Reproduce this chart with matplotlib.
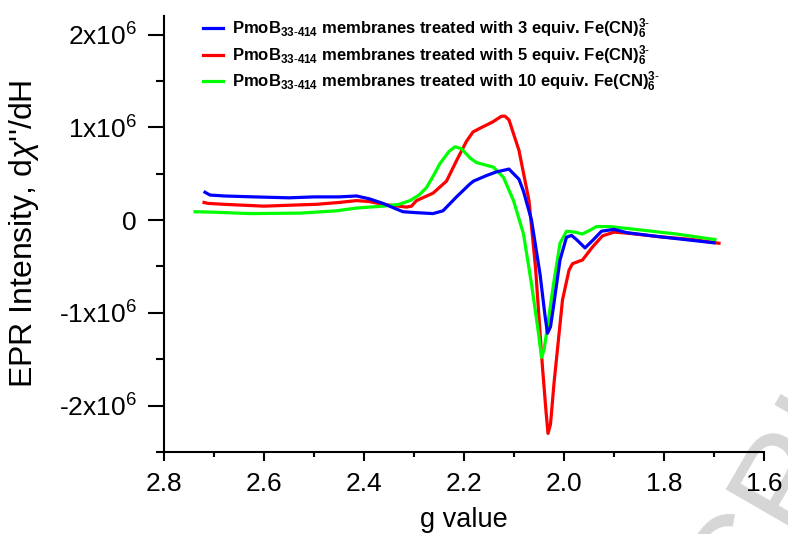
import numpy as np
import matplotlib
matplotlib.use('Agg')
import matplotlib.pyplot as plt
from matplotlib.ticker import MultipleLocator, FuncFormatter, FormatStrFormatter

plt.rcParams['font.family'] = 'Liberation Sans'
plt.rcParams['mathtext.fontset'] = 'custom'
plt.rcParams['mathtext.rm'] = 'Liberation Sans'
plt.rcParams['mathtext.it'] = 'Liberation Sans:italic'
plt.rcParams['mathtext.bf'] = 'Liberation Sans:bold'

# g values / intensities (x1e6)
g_3eq = [2.718, 2.708, 2.68, 2.62, 2.55, 2.50, 2.45, 2.415, 2.39, 2.362, 2.34, 2.322,
         2.295, 2.262, 2.242, 2.215, 2.188, 2.181, 2.155, 2.135, 2.118, 2.11, 2.101,
         2.09, 2.081, 2.065, 2.048, 2.038, 2.033, 2.027, 2.021, 2.008, 1.995, 1.985,
         1.975, 1.958, 1.941, 1.925, 1.90, 1.875, 1.808, 1.741, 1.70]
i_3eq = [0.30, 0.27, 0.26, 0.25, 0.24, 0.25, 0.25, 0.26, 0.23, 0.18, 0.13, 0.09,
         0.08, 0.07, 0.10, 0.25, 0.39, 0.42, 0.48, 0.52, 0.54, 0.55, 0.50,
         0.44, 0.31, 0.0, -0.58, -1.03, -1.22, -1.15, -0.93, -0.43, -0.185, -0.165,
         -0.21, -0.30, -0.21, -0.12, -0.10, -0.135, -0.18, -0.22, -0.245]

g_5eq = [2.72, 2.712, 2.68, 2.60, 2.55, 2.495, 2.45, 2.415, 2.39, 2.362, 2.315, 2.305,
         2.295, 2.262, 2.235, 2.215, 2.195, 2.182, 2.168, 2.142, 2.125, 2.118, 2.11,
         2.09, 2.07, 2.057, 2.043, 2.036, 2.032, 2.027, 2.02, 2.003, 1.99, 1.983,
         1.963, 1.943, 1.923, 1.90, 1.875, 1.808, 1.742, 1.69]
i_5eq = [0.19, 0.18, 0.17, 0.15, 0.16, 0.17, 0.19, 0.21, 0.20, 0.17, 0.14, 0.15,
         0.21, 0.29, 0.42, 0.64, 0.85, 0.95, 0.99, 1.06, 1.12, 1.12, 1.08,
         0.75, 0.21, -0.51, -1.59, -2.06, -2.30, -2.20, -1.76, -0.86, -0.54, -0.47,
         -0.43, -0.29, -0.17, -0.13, -0.14, -0.18, -0.21, -0.25]

g_10eq = [2.738, 2.70, 2.628, 2.528, 2.455, 2.415, 2.362, 2.33, 2.308, 2.29, 2.275,
          2.26, 2.248, 2.23, 2.218, 2.205, 2.188, 2.175, 2.161, 2.141, 2.121, 2.101,
          2.081, 2.065, 2.051, 2.045, 2.040, 2.035, 2.021, 2.008, 1.995, 1.978, 1.963,
          1.945, 1.935, 1.908, 1.841, 1.775, 1.698]
i_10eq = [0.09, 0.085, 0.07, 0.075, 0.10, 0.13, 0.15, 0.17, 0.21, 0.27, 0.35,
          0.49, 0.61, 0.74, 0.79, 0.77, 0.67, 0.62, 0.60, 0.57, 0.46, 0.21,
          -0.15, -0.69, -1.22, -1.48, -1.40, -1.22, -0.69, -0.25, -0.12, -0.13, -0.15,
          -0.10, -0.07, -0.07, -0.11, -0.15, -0.21]

labels = [r'PmoB$_{\mathbf{33\text{-}414}}$ membranes treated with 3 equiv. Fe(CN)$_{\mathbf{6}}^{\mathbf{3\text{-}}}$',
          r'PmoB$_{\mathbf{33\text{-}414}}$ membranes treated with 5 equiv. Fe(CN)$_{\mathbf{6}}^{\mathbf{3\text{-}}}$',
          r'PmoB$_{\mathbf{33\text{-}414}}$ membranes treated with 10 equiv. Fe(CN)$_{\mathbf{6}}^{\mathbf{3\text{-}}}$']

fig = plt.figure(figsize=(7.88, 5.34), dpi=100)
ax = fig.add_axes([164/788, 1-452/534, 600/788, 436/534])
ax.patch.set_alpha(0)

ax.plot(g_3eq, np.array(i_3eq)*1e6, color='#0000ff', lw=2.3, zorder=4, label=labels[0])
ax.plot(g_5eq, np.array(i_5eq)*1e6, color='#ff0000', lw=2.3, zorder=2, label=labels[1])
ax.plot(g_10eq, np.array(i_10eq)*1e6, color='#00ff00', lw=2.3, zorder=3, label=labels[2])

ax.set_xlim(2.8, 1.6)
ax.set_ylim(-2.5e6, 2.2e6)
for s in ['top', 'right']:
    ax.spines[s].set_visible(False)
for s in ['left', 'bottom']:
    ax.spines[s].set_linewidth(1.5)

ax.xaxis.set_major_locator(MultipleLocator(0.2))
ax.xaxis.set_minor_locator(MultipleLocator(0.1))
ax.xaxis.set_major_formatter(FormatStrFormatter('%.1f'))
ax.yaxis.set_major_locator(MultipleLocator(1e6))
ax.yaxis.set_minor_locator(MultipleLocator(0.5e6))

def yfmt(v, pos):
    m = int(round(v/1e6))
    if m == 0:
        return '0'
    return f'{m}x10$^{{6}}$'
ax.yaxis.set_major_formatter(FuncFormatter(yfmt))

ax.tick_params(axis='x', which='major', length=6.5, width=1.5, labelsize=19, pad=8)
ax.tick_params(axis='x', which='minor', length=3.6, width=1.5)
ax.tick_params(axis='y', which='major', length=11.5, width=1.5, labelsize=19, pad=8)
ax.tick_params(axis='y', which='minor', length=6, width=1.5)

ax.set_xlabel('g value', fontsize=19.5, labelpad=8)
ax.set_ylabel(r"EPR Intensity, d$\chi$''/dH", fontsize=23)
ax.yaxis.set_label_coords(-0.205, 0.5)

leg = ax.legend(loc='upper left', bbox_to_anchor=(203/788, 1-17/534),
                bbox_transform=fig.transFigure, frameon=False, borderpad=0,
                borderaxespad=0, handlelength=1.2, handletextpad=0.55,
                labelspacing=0.12, prop={'weight': 'bold', 'size': 12})

# faint watermark in the lower right corner
fig.text(727, -120, 'MANUSCRIPT', transform=None, fontsize=96, color='#d6d6d6',
         rotation=60, rotation_mode='anchor', ha='center', va='baseline', zorder=-5)

fig.savefig('out.png', dpi=100)
